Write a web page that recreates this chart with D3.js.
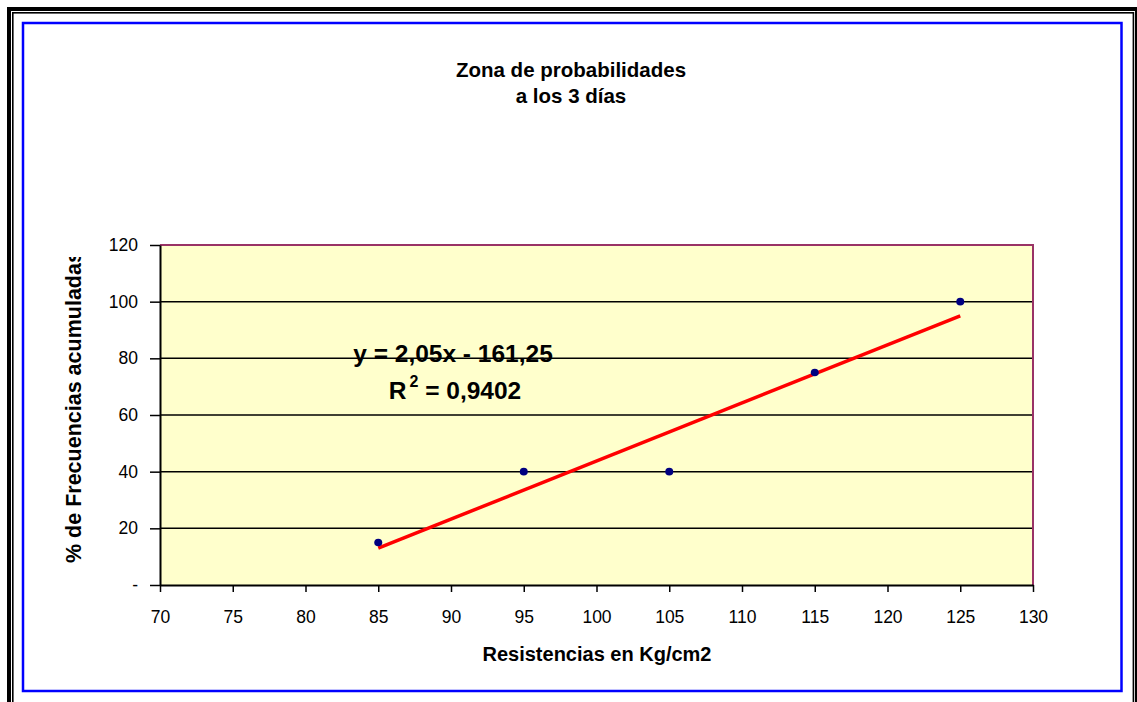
<!DOCTYPE html>
<html>
<head>
<meta charset="utf-8">
<script src="https://cdn.jsdelivr.net/npm/d3@7"></script>
<style>
  html, body { margin: 0; padding: 0; background: #ffffff; }
  svg { display: block; font-family: Arial, "Liberation Sans", sans-serif; }
</style>
</head>
<body>
<svg id="chart" width="1137" height="702"></svg>
<script>
// ---- data ----
const resistencias = [85, 95, 105, 115, 125];
const frecuencias = [15, 40, 40, 75, 100];
const trendSlope = 2.05;
const trendIntercept = -161.25;
const xTicks = [70, 75, 80, 85, 90, 95, 100, 105, 110, 115, 120, 125, 130];
const yTicks = [0, 20, 40, 60, 80, 100, 120];
const yTickLabels = ["-", "20", "40", "60", "80", "100", "120"];
const titleLines = ["Zona de probabilidades", "a los 3 días"];
const xTitle = "Resistencias en Kg/cm2";
const yTitle = "% de Frecuencias acumuladas";
const eqLine = "y = 2,05x - 161,25";
const r2Value = " = 0,9402";

// ---- layout ----
const svg = d3.select("#chart");
const L = 160, R = 1033, T = 245, B = 585;
const x = d3.scaleLinear().domain([70, 130]).range([L, R]);
const y = d3.scaleLinear().domain([0, 120]).range([B, T]);

// outer double black frame (explicit segments)
const frame = svg.append("g").attr("fill", "#000");
frame.append("rect").attr("x", 7).attr("y", 7).attr("width", 1130).attr("height", 4);   // top thick
frame.append("rect").attr("x", 12).attr("y", 12).attr("width", 1122).attr("height", 1.6); // top thin
frame.append("rect").attr("x", 7).attr("y", 7).attr("width", 4).attr("height", 695);    // left thick
frame.append("rect").attr("x", 12).attr("y", 12).attr("width", 1.6).attr("height", 690); // left thin
frame.append("rect").attr("x", 1132.6).attr("y", 12).attr("width", 1.6).attr("height", 690); // right thin
frame.append("rect").attr("x", 1135).attr("y", 7).attr("width", 2).attr("height", 695);  // right thick
// blue inner frame
svg.append("rect").attr("x", 23).attr("y", 23).attr("width", 1098.5).attr("height", 668)
  .attr("fill", "none").attr("stroke", "#0000FF").attr("stroke-width", 2.5);

// plot area
svg.append("rect").attr("x", L).attr("y", T).attr("width", R - L).attr("height", B - T)
  .attr("fill", "#FFFFCC");

// gridlines
svg.append("g").selectAll("line").data(yTicks.filter(d => d > 0 && d < 120)).join("line")
  .attr("x1", L).attr("x2", R).attr("y1", d => y(d)).attr("y2", d => y(d))
  .attr("stroke", "#000").attr("stroke-width", 1.5);

// top & right border
svg.append("path")
  .attr("d", `M${L},${T}H${R}V${B}`)
  .attr("fill", "none").attr("stroke", "#993366").attr("stroke-width", 2);

// axes
const xAxis = d3.axisBottom(x).tickValues(xTicks).tickSize(7).tickSizeOuter(0).tickFormat(d3.format("d"));
const gx = svg.append("g").attr("transform", `translate(0,${B})`).call(xAxis);
gx.select(".domain").attr("stroke", "#000").attr("stroke-width", 2);
gx.selectAll(".tick line").attr("stroke", "#000").attr("stroke-width", 1.5);
gx.selectAll(".tick text").attr("font-size", 17.5).attr("fill", "#000")
  .attr("font-family", "Arial, 'Liberation Sans', sans-serif").attr("dy", null).attr("y", 38);

const yAxis = d3.axisLeft(y).tickValues(yTicks).tickSize(10).tickSizeOuter(0)
  .tickFormat((d, i) => yTickLabels[i]);
const gy = svg.append("g").attr("transform", `translate(${L},0)`).call(yAxis);
gy.select(".domain").attr("stroke", "#000").attr("stroke-width", 2);
gy.selectAll(".tick line").attr("stroke", "#000").attr("stroke-width", 1.5);
gy.selectAll(".tick text").attr("font-size", 17.5).attr("fill", "#000")
  .attr("font-family", "Arial, 'Liberation Sans', sans-serif").attr("x", -22);

// trend line
const line = d3.line().x(d => x(d)).y(d => y(trendSlope * d + trendIntercept));
svg.append("path").datum([d3.min(resistencias), d3.max(resistencias)])
  .attr("d", line).attr("fill", "none").attr("stroke", "#FF0000").attr("stroke-width", 3.5);

// points
svg.append("g").selectAll("ellipse").data(resistencias.map((r, i) => [r, frecuencias[i]])).join("ellipse")
  .attr("cx", d => x(d[0])).attr("cy", d => y(d[1]))
  .attr("rx", 4).attr("ry", 3.8).attr("fill", "#000080");

// title
const title = svg.append("text").attr("text-anchor", "middle")
  .attr("font-weight", "bold").attr("font-size", 20.5).attr("fill", "#000");
titleLines.forEach((t, i) => {
  title.append("tspan").attr("x", 571).attr("y", 77 + i * 26).text(t);
});

// equation
svg.append("text").attr("x", 453).attr("y", 362).attr("text-anchor", "middle")
  .attr("font-weight", "bold").attr("font-size", 24.5).attr("fill", "#000").text(eqLine);
const r2 = svg.append("text").attr("x", 455).attr("y", 399).attr("text-anchor", "middle")
  .attr("font-weight", "bold").attr("font-size", 24.5).attr("fill", "#000");
r2.append("tspan").text("R");
r2.append("tspan").attr("font-size", 16).attr("dx", 3).attr("dy", -12).text("2");
r2.append("tspan").attr("dy", 12).text(r2Value);

// x title
svg.append("text").attr("x", 597).attr("y", 661).attr("text-anchor", "middle")
  .attr("font-weight", "bold").attr("font-size", 20).attr("fill", "#000").text(xTitle);

// y title (clipped at top like the original)
svg.append("clipPath").attr("id", "yclip").append("rect")
  .attr("x", 40).attr("y", 257).attr("width", 80).attr("height", 360);
svg.append("g").attr("clip-path", "url(#yclip)")
  .append("text").attr("transform", "translate(81,563) rotate(-90)")
  .attr("text-anchor", "start").attr("font-weight", "bold").attr("font-size", 21.5)
  .attr("fill", "#000").text(yTitle);
</script>
</body>
</html>
